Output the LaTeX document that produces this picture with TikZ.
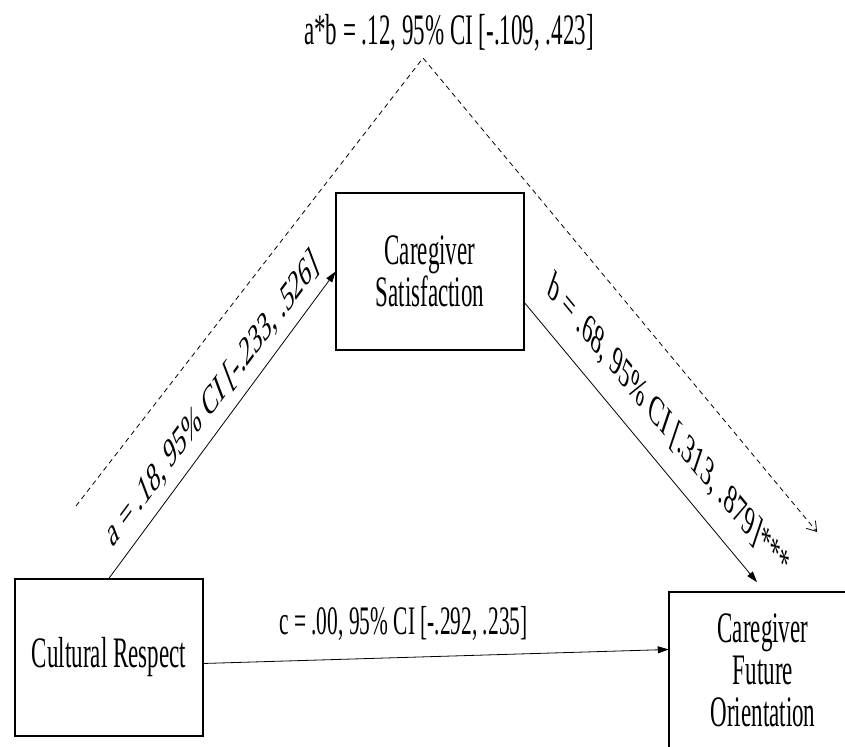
\documentclass[tikz,border=0pt]{standalone}
\usepackage{fontspec}
\setmainfont{Liberation Serif}
\usetikzlibrary{arrows.meta, calc}

\begin{document}
\begin{tikzpicture}[
            x = 1.8904pt, y = -1pt, % one unit = one pixel of the figure
            xscale = 0.529, transform shape, % figure is squeezed sideways
            > = {Triangle[length=11pt, width=7pt]}, % arrow head style
            font = \fontsize{43.5}{42}\selectfont,
            line width = 0.8pt % line style
        ]

        \tikzstyle{var}=[
            draw = black,
            line width = 1.5pt,
            fill = white,
            inner sep = 0pt,
            align = center,
            minimum width = 355pt,
            minimum height = 157pt
        ]
        \tikzstyle{coef}=[above, inner sep = 13pt, font = \fontsize{41.5}{42}\selectfont]
        \tikzstyle{indirect}=[dash pattern = on 5pt off 4pt]

        \clip (0,0) rectangle (845,747);

        \node[var] (crst) at (109,657.5) {Cultural Respect};
        \node[var] (cgsat) at (430,271.5) {Caregiver\\Satisfaction};
        \node[var] (cfo) at (763,670.5) {Caregiver\\Future\\Orientation};

        \coordinate (apex) at (423,58);
        \coordinate (lft) at (76,506);
        \coordinate (rgt) at (817,532);

        % a*b path
        \node (ab) at (449,33) {a*b = .12, 95\% CI [-.109, .423]};
        \draw[indirect, -{Straight Barb[length=9pt, width=12pt]}] (lft) -- (apex) -- (rgt);

        \path[->] (crst.north) edge node[coef, rotate=35.55] {a = .18, 95\% CI [-.233, .526]} (cgsat.west);
        \path[->] ($(cgsat.east)+(0,31)$) edge node[coef, pos=.57, inner sep=23pt, rotate=-32.5] {b = .68, 95\% CI [.313, .879]***} ($(cfo.north)+(-6,-9)$);
        \path[->] ($(crst.east)+(0,6)$) edge node[coef, pos=.43, inner sep=16pt, font=\fontsize{40.5}{42}\selectfont] {c = .00, 95\% CI [-.292, .235]} ($(cfo.west)+(0,-21)$);
    \end{tikzpicture}
\end{document}
